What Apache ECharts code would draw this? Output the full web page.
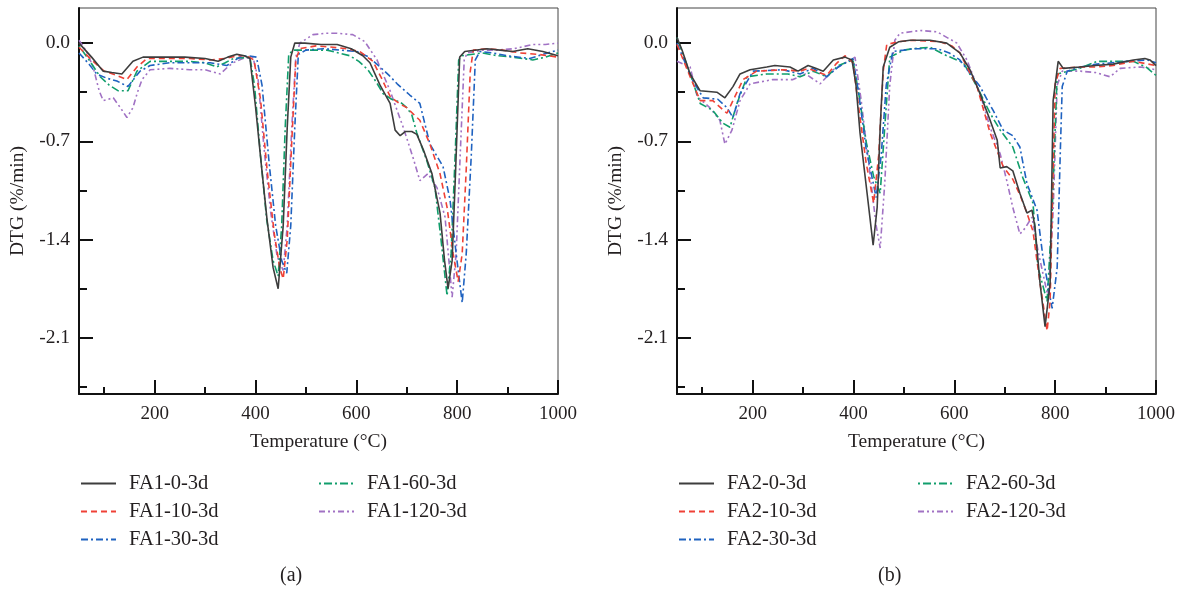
<!DOCTYPE html>
<html><head><meta charset="utf-8">
<script src="https://cdn.jsdelivr.net/npm/echarts@6/dist/echarts.min.js"></script>
<style>html,body{margin:0;padding:0;background:#fff}#c{width:1182px;height:590px}</style>
</head><body><div id="c"></div>
<script>
// ---- data: [temperature °C, DTG %/min] ----
const xMajorTicks = [200, 400, 600, 800, 1000];
const xMinorTicks = [100, 300, 500, 700, 900];
const yMajorTicks = [0, -0.7, -1.4, -2.1];
const yMinorTicks = [-0.35, -1.05, -1.75, -2.45];

const namesA = ['FA1-0-3d', 'FA1-10-3d', 'FA1-30-3d', 'FA1-60-3d', 'FA1-120-3d'];
const namesB = ['FA2-0-3d', 'FA2-10-3d', 'FA2-30-3d', 'FA2-60-3d', 'FA2-120-3d'];

const FA1_0 = [[50,0.0],[75,-0.1],[98,-0.2],[115,-0.21],[135,-0.22],[157,-0.13],[177,-0.1],[220,-0.1],[260,-0.1],[300,-0.11],[326,-0.13],[345,-0.1],[363,-0.08],[378,-0.09],[389,-0.11],[400,-0.45],[412,-0.88],[423,-1.26],[435,-1.6],[445,-1.75],[455,-1.3],[463,-0.6],[470,-0.1],[478,0.0],[498,0.0],[530,-0.01],[562,-0.01],[590,-0.04],[613,-0.09],[627,-0.14],[647,-0.3],[667,-0.43],[677,-0.62],[687,-0.66],[697,-0.63],[710,-0.63],[720,-0.65],[733,-0.76],[750,-0.93],[766,-1.21],[775,-1.55],[782,-1.75],[790,-1.55],[797,-0.9],[805,-0.1],[815,-0.06],[859,-0.04],[885,-0.05],[910,-0.06],[940,-0.04],[970,-0.06],[1000,-0.09]];
const FA1_10 = [[50,-0.03],[75,-0.12],[100,-0.2],[125,-0.23],[145,-0.26],[165,-0.17],[185,-0.11],[230,-0.11],[270,-0.11],[310,-0.12],[340,-0.11],[365,-0.09],[383,-0.09],[397,-0.12],[410,-0.4],[423,-0.9],[437,-1.35],[448,-1.6],[455,-1.68],[463,-1.4],[472,-0.7],[480,-0.12],[488,-0.04],[520,-0.02],[554,-0.03],[580,-0.04],[607,-0.06],[633,-0.13],[650,-0.25],[667,-0.38],[685,-0.43],[700,-0.46],[726,-0.55],[746,-0.72],[766,-0.93],[780,-1.17],[792,-1.5],[802,-1.7],[810,-1.5],[818,-0.9],[826,-0.2],[832,-0.05],[860,-0.04],[890,-0.05],[925,-0.07],[960,-0.08],[1000,-0.1]];
const FA1_30 = [[50,-0.07],[70,-0.15],[85,-0.22],[105,-0.25],[125,-0.27],[147,-0.31],[160,-0.25],[171,-0.2],[191,-0.16],[230,-0.14],[270,-0.14],[310,-0.14],[343,-0.16],[369,-0.1],[385,-0.09],[402,-0.1],[413,-0.3],[427,-0.85],[440,-1.3],[452,-1.55],[462,-1.64],[470,-1.3],[478,-0.6],[485,-0.08],[500,-0.05],[534,-0.04],[570,-0.05],[601,-0.06],[625,-0.1],[647,-0.17],[665,-0.23],[681,-0.29],[706,-0.37],[726,-0.43],[746,-0.72],[772,-0.88],[786,-1.12],[798,-1.5],[810,-1.85],[818,-1.5],[828,-0.8],[836,-0.12],[845,-0.06],[870,-0.07],[899,-0.09],[944,-0.11],[970,-0.08],[1000,-0.05]];
const FA1_60 = [[50,-0.02],[70,-0.12],[92,-0.24],[110,-0.3],[128,-0.34],[147,-0.34],[165,-0.2],[191,-0.13],[230,-0.13],[270,-0.13],[300,-0.14],[323,-0.17],[340,-0.14],[356,-0.11],[389,-0.1],[398,-0.3],[410,-0.8],[422,-1.25],[435,-1.55],[445,-1.66],[452,-1.3],[459,-0.6],[466,-0.08],[475,-0.05],[510,-0.05],[542,-0.05],[565,-0.07],[587,-0.09],[605,-0.13],[623,-0.19],[640,-0.28],[653,-0.36],[670,-0.4],[687,-0.42],[700,-0.46],[710,-0.51],[720,-0.64],[740,-0.84],[756,-1.03],[768,-1.4],[780,-1.8],[788,-1.5],[796,-0.8],[803,-0.12],[810,-0.09],[850,-0.07],[880,-0.09],[910,-0.1],[950,-0.12],[975,-0.1],[1000,-0.07]];
const FA1_120 = [[50,0.02],[65,-0.06],[78,-0.17],[90,-0.34],[98,-0.41],[118,-0.39],[132,-0.46],[145,-0.53],[157,-0.46],[166,-0.35],[175,-0.26],[191,-0.19],[230,-0.18],[270,-0.19],[300,-0.19],[330,-0.22],[345,-0.17],[356,-0.14],[375,-0.11],[395,-0.1],[405,-0.25],[417,-0.75],[430,-1.2],[443,-1.52],[455,-1.62],[463,-1.3],[472,-0.6],[480,-0.1],[488,0.0],[514,0.06],[540,0.07],[562,0.07],[593,0.06],[617,0.01],[641,-0.12],[667,-0.34],[693,-0.6],[712,-0.81],[726,-0.98],[742,-0.93],[760,-1.03],[776,-1.24],[790,-1.81],[798,-1.5],[806,-0.8],[814,-0.12],[820,-0.07],[850,-0.05],[880,-0.05],[913,-0.04],[950,-0.01],[975,-0.01],[1000,0.0]];

const FA2_0 = [[50,0.04],[60,-0.05],[76,-0.22],[96,-0.34],[129,-0.35],[145,-0.39],[161,-0.31],[175,-0.22],[195,-0.19],[228,-0.17],[244,-0.16],[274,-0.17],[290,-0.2],[310,-0.16],[325,-0.18],[340,-0.2],[360,-0.12],[383,-0.1],[397,-0.12],[405,-0.3],[413,-0.64],[427,-1.07],[439,-1.44],[447,-1.17],[453,-0.6],[459,-0.17],[472,-0.03],[490,0.01],[512,0.02],[552,0.02],[585,0.0],[611,-0.07],[631,-0.19],[651,-0.36],[671,-0.55],[685,-0.69],[691,-0.89],[704,-0.88],[716,-0.91],[730,-1.07],[744,-1.21],[754,-1.19],[760,-1.31],[770,-1.71],[780,-2.02],[790,-1.71],[796,-0.41],[806,-0.13],[816,-0.18],[849,-0.17],[880,-0.16],[915,-0.15],[955,-0.12],[978,-0.11],[988,-0.12],[1000,-0.16]];
const FA2_10 = [[50,-0.01],[76,-0.24],[96,-0.41],[121,-0.41],[149,-0.5],[165,-0.38],[181,-0.26],[208,-0.2],[260,-0.19],[294,-0.2],[310,-0.18],[347,-0.23],[365,-0.15],[383,-0.09],[399,-0.14],[410,-0.45],[425,-0.85],[440,-1.14],[450,-0.8],[459,-0.2],[466,-0.01],[490,0.01],[518,0.02],[572,0.01],[595,-0.02],[611,-0.07],[645,-0.31],[671,-0.64],[697,-0.88],[716,-0.97],[730,-1.08],[744,-1.21],[756,-1.34],[770,-1.71],[784,-2.05],[790,-1.84],[800,-0.29],[810,-0.18],[850,-0.17],[880,-0.17],[915,-0.16],[955,-0.13],[1000,-0.16]];
const FA2_30 = [[50,0.0],[80,-0.26],[102,-0.39],[131,-0.4],[149,-0.46],[161,-0.53],[175,-0.36],[201,-0.2],[260,-0.19],[294,-0.22],[320,-0.18],[347,-0.24],[370,-0.17],[399,-0.11],[410,-0.35],[425,-0.75],[445,-1.1],[455,-0.8],[465,-0.3],[478,-0.06],[500,-0.05],[518,-0.04],[566,-0.04],[590,-0.07],[611,-0.12],[651,-0.31],[677,-0.48],[697,-0.62],[716,-0.66],[730,-0.74],[744,-1.0],[764,-1.19],[776,-1.53],[794,-1.89],[804,-1.6],[810,-0.8],[814,-0.31],[824,-0.2],[850,-0.17],[883,-0.15],[943,-0.13],[983,-0.12],[1000,-0.14]];
const FA2_60 = [[50,0.04],[76,-0.22],[96,-0.43],[121,-0.48],[141,-0.57],[155,-0.6],[169,-0.43],[189,-0.24],[228,-0.22],[270,-0.22],[294,-0.24],[320,-0.2],[347,-0.24],[370,-0.16],[399,-0.12],[410,-0.35],[425,-0.7],[440,-0.95],[453,-1.07],[462,-0.6],[472,-0.1],[500,-0.05],[518,-0.04],[552,-0.03],[585,-0.09],[618,-0.14],[645,-0.31],[671,-0.5],[691,-0.62],[716,-0.74],[736,-0.96],[756,-1.14],[766,-1.6],[784,-1.84],[794,-1.2],[804,-0.22],[849,-0.18],[883,-0.13],[955,-0.13],[980,-0.17],[1000,-0.23]];
const FA2_120 = [[50,-0.13],[76,-0.17],[90,-0.38],[115,-0.46],[135,-0.55],[145,-0.72],[159,-0.62],[175,-0.41],[195,-0.29],[240,-0.26],[280,-0.26],[305,-0.22],[334,-0.29],[360,-0.19],[403,-0.1],[415,-0.4],[430,-0.85],[445,-1.3],[453,-1.46],[462,-1.0],[472,-0.3],[482,0.02],[492,0.07],[532,0.09],[566,0.08],[605,0.0],[625,-0.12],[651,-0.36],[671,-0.6],[691,-0.79],[704,-0.98],[716,-1.17],[730,-1.36],[740,-1.32],[754,-1.24],[766,-1.48],[786,-1.81],[796,-1.2],[804,-0.3],[814,-0.2],[850,-0.2],[880,-0.21],[909,-0.24],[929,-0.18],[970,-0.17],[1000,-0.19]];

const dataA = [FA1_0, FA1_10, FA1_30, FA1_60, FA1_120];
const dataB = [FA2_0, FA2_10, FA2_30, FA2_60, FA2_120];

// ---- styles ----
const FONT = 'Liberation Serif';
const TXT = '#231f20';
const colors = ['#3d3d3d', '#ef4136', '#1f62c0', '#119e6c', '#a172c4'];
const dashes = ['solid', [6, 4], [7, 3, 2, 3], [2, 3, 8, 3], [6, 3, 2, 3, 2, 3]];

const panels = [
  {left: 79, names: namesA, data: dataA, legL1: 80, legL2: 318, cap: '(a)', capX: 292},
  {left: 677, names: namesB, data: dataB, legL1: 678, legL2: 917, cap: '(b)', capX: 890}
];
const GW = 479, GT = 8, GH = 386;

const option = {
  animation: false,
  backgroundColor: '#fff',
  grid: [], xAxis: [], yAxis: [], series: [], legend: [], title: []
};

panels.forEach((p, i) => {
  option.grid.push({left: p.left, top: GT, width: GW, height: GH, show: true, borderColor: '#444', borderWidth: 1, backgroundColor: 'transparent'});
  const xi = option.xAxis.length, yi = option.yAxis.length;
  option.xAxis.push({
    type: 'value', gridIndex: i, min: 50, max: 1000, position: 'bottom',
    name: 'Temperature (°C)', nameLocation: 'middle', nameGap: 38,
    nameTextStyle: {fontFamily: FONT, fontSize: 19.5, color: TXT},
    axisLine: {show: true, onZero: false, lineStyle: {color: '#111', width: 2}},
    axisTick: {show: true, inside: true, length: 14, customValues: xMajorTicks, lineStyle: {color: '#111', width: 2}},
    axisLabel: {show: true, customValues: xMajorTicks, margin: 11, fontFamily: FONT, fontSize: 19, color: TXT,
      formatter: v => String(v)},
    splitLine: {show: false}
  });
  option.xAxis.push({
    type: 'value', gridIndex: i, min: 50, max: 1000, position: 'bottom',
    axisLine: {show: false, onZero: false},
    axisTick: {show: true, inside: true, length: 7, customValues: xMinorTicks, lineStyle: {color: '#111', width: 2}},
    axisLabel: {show: false}, splitLine: {show: false}
  });
  option.yAxis.push({
    type: 'value', gridIndex: i, min: -2.5, max: 0.25, position: 'left',
    name: 'DTG (%/min)', nameLocation: 'middle', nameGap: 51,
    nameTextStyle: {fontFamily: FONT, fontSize: 19.5, color: TXT},
    axisLine: {show: true, onZero: false, lineStyle: {color: '#111', width: 2}},
    axisTick: {show: true, inside: true, length: 14, customValues: yMajorTicks, lineStyle: {color: '#111', width: 2}},
    axisLabel: {show: true, customValues: yMajorTicks, margin: 9, fontFamily: FONT, fontSize: 19.5, color: TXT,
      formatter: v => (Math.abs(v) < 1e-9 ? 0 : v).toFixed(1)},
    splitLine: {show: false}
  });
  option.yAxis.push({
    type: 'value', gridIndex: i, min: -2.5, max: 0.25, position: 'left',
    axisLine: {show: false, onZero: false},
    axisTick: {show: true, inside: true, length: 8, customValues: yMinorTicks, lineStyle: {color: '#111', width: 2}},
    axisLabel: {show: false}, splitLine: {show: false}
  });
  p.names.forEach((n, k) => {
    option.series.push({
      name: n, type: 'line', xAxisIndex: xi, yAxisIndex: yi, data: p.data[k],
      symbol: 'none', showSymbol: false, smooth: false, z: 10 - k,
      lineStyle: {color: colors[k], width: 1.6, type: dashes[k]},
      itemStyle: {color: colors[k]}
    });
  });
  const legCommon = {
    orient: 'vertical', top: 473, itemWidth: 35, itemHeight: 14, itemGap: 7,
    selectedMode: false, padding: 0,
    itemStyle: {opacity: 0},
    textStyle: {fontFamily: FONT, fontSize: 20.5, color: TXT, lineHeight: 20, padding: [0, 0, 0, 8]}
  };
  option.legend.push(Object.assign({}, legCommon, {left: p.legL1, data: p.names.slice(0, 3)}));
  option.legend.push(Object.assign({}, legCommon, {left: p.legL2, data: p.names.slice(3)}));
  option.title.push({text: p.cap, left: p.capX - 12, top: 566,
    textStyle: {fontFamily: FONT, fontSize: 20, fontWeight: 'normal', color: TXT}, padding: 0});
});

const chart = echarts.init(document.getElementById('c'), null, {renderer: 'canvas'});
chart.setOption(option);
</script></body></html>
